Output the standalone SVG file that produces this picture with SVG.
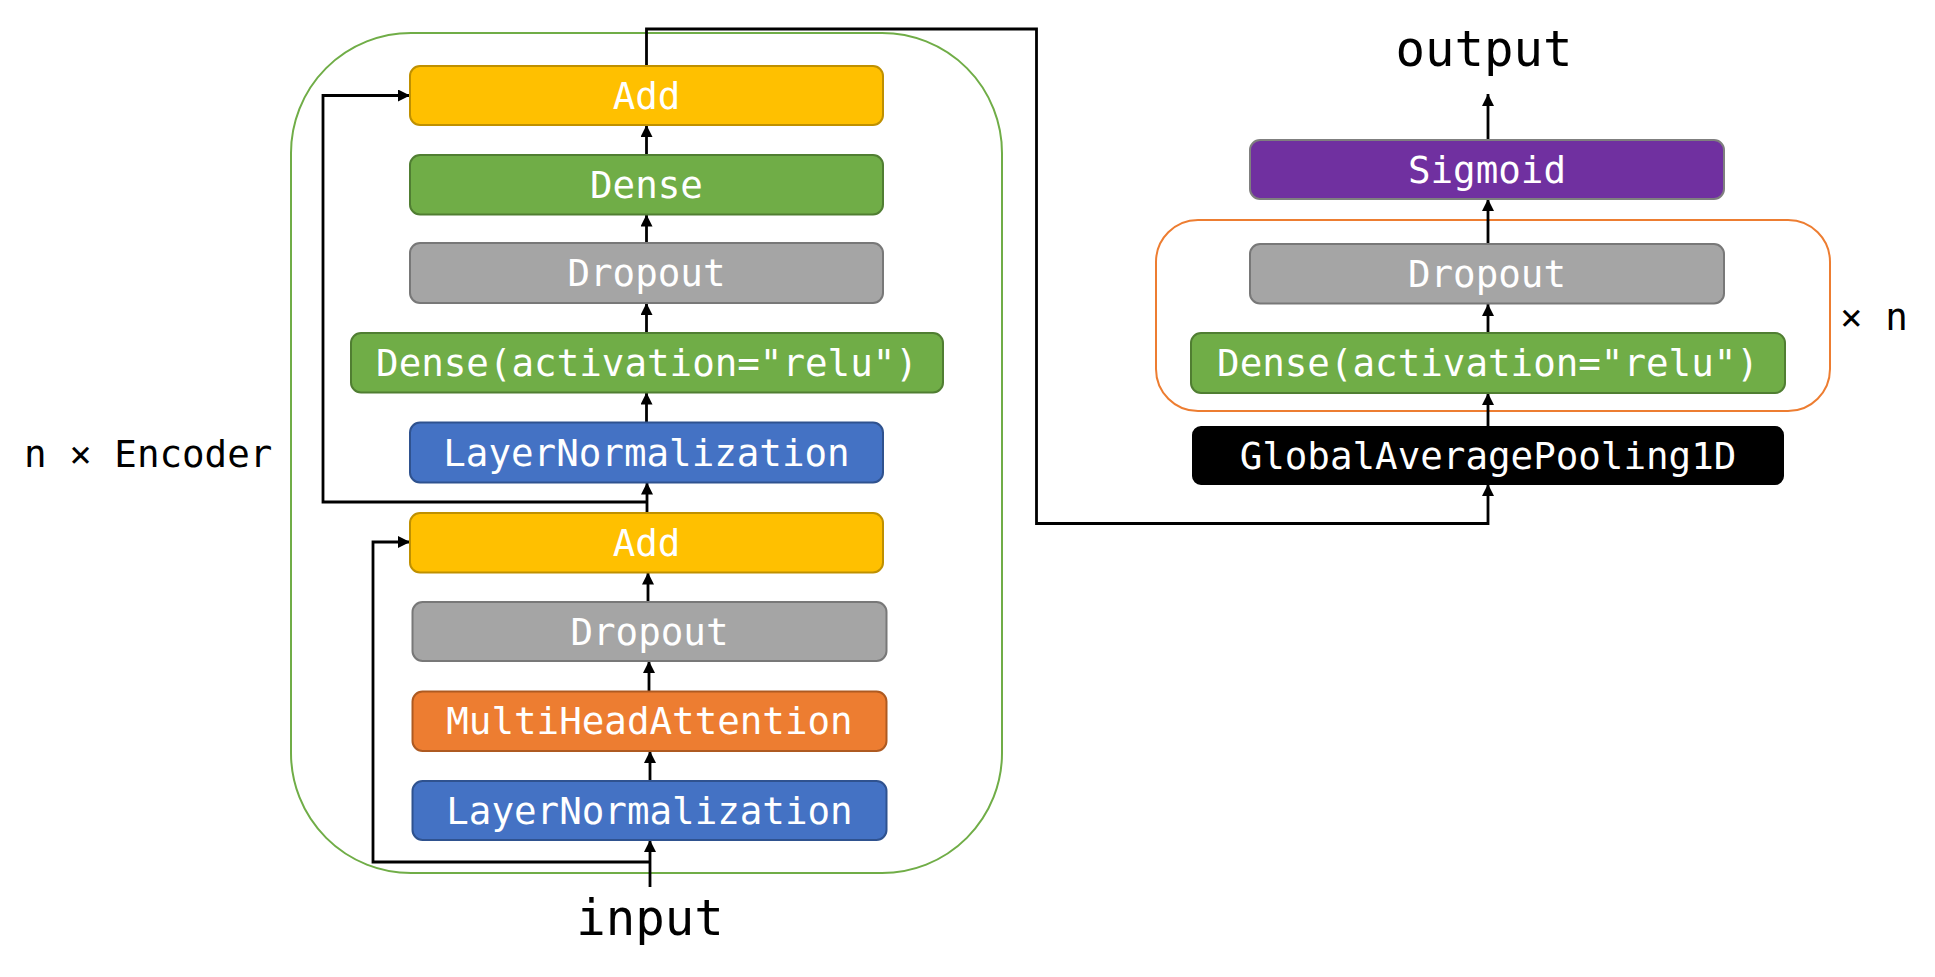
<svg xmlns="http://www.w3.org/2000/svg" width="1935" height="977" viewBox="0 0 1935 977">
<style>
  .lbl { font-family: "DejaVu Sans Mono", "Liberation Mono", monospace; font-size: 37.5px; fill: #ffffff; text-anchor: middle; }
  .txt { font-family: "DejaVu Sans Mono", "Liberation Mono", monospace; fill: #000000; }
  .add { fill: #FFC000; stroke: #BF9000; stroke-width: 2; }
  .dense { fill: #70AD47; stroke: #507E32; stroke-width: 2; }
  .drop { fill: #A5A5A5; stroke: #787878; stroke-width: 2; }
  .ln { fill: #4472C4; stroke: #2F528F; stroke-width: 2; }
  .mha { fill: #ED7D31; stroke: #AE5A21; stroke-width: 2; }
  .sig { fill: #7030A0; stroke: #7F7F7F; stroke-width: 2; }
  .gap { fill: #000000; stroke: #000000; stroke-width: 2; }
  .conn { fill: none; stroke: #000000; stroke-width: 2.8; marker-end: url(#arrow); }
</style>
<defs>
  <marker id="arrow" markerUnits="userSpaceOnUse" markerWidth="12" markerHeight="12" refX="12" refY="6" orient="auto">
    <path d="M0,0 L12,6 L0,12 z" fill="#000000"/>
  </marker>
</defs>
<rect width="1935" height="977" fill="#ffffff"/>

<g id="encoder-container">
  <rect x="291" y="33" width="711" height="840" rx="120" ry="120" fill="none" stroke="#70AD47" stroke-width="2"/>
</g>
<g id="head-container">
  <rect x="1156" y="220" width="674" height="191" rx="42" ry="42" fill="none" stroke="#ED7D31" stroke-width="2"/>
</g>

<g id="connectors">
  <path class="conn" d="M646.5,155 V125"/>
  <path class="conn" d="M646.5,243 V214.5"/>
  <path class="conn" d="M646.5,333 V303"/>
  <path class="conn" d="M646.5,422.5 V392.5"/>
  <path class="conn" d="M647,513 V482.5"/>
  <path class="conn" d="M647,502 H323 V95.5 H410"/>
  <path class="conn" d="M648,602 V572.5"/>
  <path class="conn" d="M649,691.5 V661"/>
  <path class="conn" d="M650,781 V751"/>
  <path class="conn" d="M650,887 V840"/>
  <path class="conn" d="M650,862 H373 V542 H410"/>
  <path class="conn" d="M646.5,66 V29 H1036.5 V523.5 H1488 V484"/>
  <path class="conn" d="M1488,427 V393"/>
  <path class="conn" d="M1488,333 V304"/>
  <path class="conn" d="M1488,244 V199"/>
  <path class="conn" d="M1488,140 V94"/>
</g>

<g id="add-top">
  <rect class="add" x="410" y="66" width="473" height="59" rx="10"/>
  <text class="lbl" x="646.5" y="108.5">Add</text>
</g>
<g id="dense-top">
  <rect class="dense" x="410" y="155" width="473" height="59.5" rx="10"/>
  <text class="lbl" x="646.5" y="197.5">Dense</text>
</g>
<g id="dropout-top">
  <rect class="drop" x="410" y="243" width="473" height="60" rx="10"/>
  <text class="lbl" x="646.5" y="286">Dropout</text>
</g>
<g id="dense-relu-enc">
  <rect class="dense" x="351" y="333" width="592" height="59.5" rx="10"/>
  <text class="lbl" x="647" y="375.5">Dense(activation="relu")</text>
</g>
<g id="layernorm-top">
  <rect class="ln" x="410" y="422.5" width="473" height="60" rx="10"/>
  <text class="lbl" x="646.5" y="465.5">LayerNormalization</text>
</g>
<g id="add-bottom">
  <rect class="add" x="410" y="513" width="473" height="59.5" rx="10"/>
  <text class="lbl" x="646.5" y="555.5">Add</text>
</g>
<g id="dropout-bottom">
  <rect class="drop" x="412.5" y="602" width="474" height="59" rx="10"/>
  <text class="lbl" x="649.5" y="644.5">Dropout</text>
</g>
<g id="mha">
  <rect class="mha" x="412.5" y="691.5" width="474" height="59.5" rx="10"/>
  <text class="lbl" x="649.5" y="734">MultiHeadAttention</text>
</g>
<g id="layernorm-bottom">
  <rect class="ln" x="412.5" y="781" width="474" height="59" rx="10"/>
  <text class="lbl" x="649.5" y="823.5">LayerNormalization</text>
</g>

<g id="sigmoid">
  <rect class="sig" x="1250" y="140" width="474" height="59" rx="10"/>
  <text class="lbl" x="1487" y="182.5">Sigmoid</text>
</g>
<g id="dropout-head">
  <rect class="drop" x="1250" y="244" width="474" height="59.5" rx="10"/>
  <text class="lbl" x="1487" y="286.5">Dropout</text>
</g>
<g id="dense-relu-head">
  <rect class="dense" x="1191" y="333" width="594" height="60" rx="10"/>
  <text class="lbl" x="1488" y="376">Dense(activation="relu")</text>
</g>
<g id="gap">
  <rect class="gap" x="1193" y="427" width="590" height="57" rx="8"/>
  <text class="lbl" x="1488" y="468.5">GlobalAveragePooling1D</text>
</g>

<g id="labels">
  <text class="txt" x="1484" y="66" font-size="49" text-anchor="middle">output</text>
  <text class="txt" x="650" y="935" font-size="49" text-anchor="middle">input</text>
  <text class="txt" x="24" y="467" font-size="37.5">n × Encoder</text>
  <text class="txt" x="1840" y="330" font-size="37.5">× n</text>
</g>
</svg>
